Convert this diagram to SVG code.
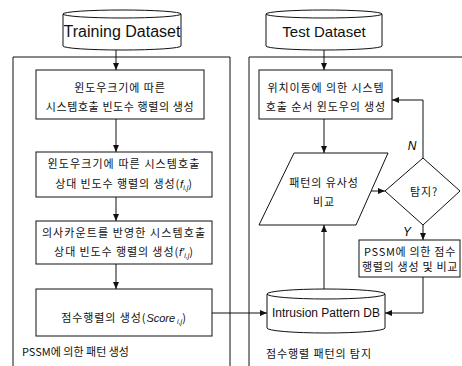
<svg xmlns="http://www.w3.org/2000/svg" width="462" height="366" viewBox="0 0 462 366">
<defs>
<marker id="arr" markerUnits="userSpaceOnUse" markerWidth="7" markerHeight="6" refX="7" refY="3" orient="auto">
<path d="M0,0 L7,3 L0,6 z" fill="#111"/>
</marker>
<style>
.ln{fill:none;stroke:#111;stroke-width:1}
.bx{fill:#fff;stroke:#111;stroke-width:1}
.ko{font-family:"Noto Sans CJK KR","Noto Sans",sans-serif;font-size:11px;fill:#111;text-anchor:middle;letter-spacing:0.9px}
.lt{font-family:"Liberation Sans",Arial,sans-serif;fill:#111;text-anchor:middle}
.it{font-family:"Liberation Sans",Arial,sans-serif;font-style:italic;letter-spacing:0}
.sub{font-family:"Liberation Sans",Arial,sans-serif;font-style:italic;font-size:7px;letter-spacing:0}
</style>
</defs>
<rect width="462" height="366" fill="#fff"/>

<g id="frames">
<path class="ln" d="M13,366 V57 H230 V366"/>
<path class="ln" d="M249,366 V57 H462"/>
</g>

<g id="connectors">
<line class="ln" x1="116" y1="50" x2="116" y2="70" marker-end="url(#arr)"/>
<line class="ln" x1="116" y1="119" x2="116" y2="152" marker-end="url(#arr)"/>
<line class="ln" x1="116" y1="197" x2="116" y2="221" marker-end="url(#arr)"/>
<line class="ln" x1="116" y1="264" x2="116" y2="289" marker-end="url(#arr)"/>
<line class="ln" x1="212" y1="313" x2="267" y2="313" marker-end="url(#arr)"/>
<line class="ln" x1="324" y1="50" x2="324" y2="70" marker-end="url(#arr)"/>
<line class="ln" x1="324" y1="119" x2="324" y2="153" marker-end="url(#arr)"/>
<line class="ln" x1="324" y1="289" x2="324" y2="225" marker-end="url(#arr)"/>
<line class="ln" x1="371" y1="191" x2="385" y2="191" marker-end="url(#arr)"/>
<polyline class="ln" points="423,158 423,100 392,100" marker-end="url(#arr)"/>
<line class="ln" x1="423" y1="225" x2="423" y2="240" marker-end="url(#arr)"/>
<polyline class="ln" points="423,277 423,313 385,313" marker-end="url(#arr)"/>
<text class="it" x="412" y="150" font-size="12" text-anchor="middle">N</text>
<text class="it" x="407" y="236" font-size="12" text-anchor="middle">Y</text>
</g>

<g id="training">
<path class="bx" d="M63,14 A59,4 0 0 1 181,14 V46 A59,4 0 0 1 63,46 Z"/>
<path class="ln" d="M63,14 A59,4 0 0 0 181,14"/>
<text class="lt" x="122" y="37" font-size="16">Training Dataset</text>
</g>

<g id="test">
<path class="bx" d="M266,14 A58,4 0 0 1 382,14 V46 A58,4 0 0 1 266,46 Z"/>
<path class="ln" d="M266,14 A58,4 0 0 0 382,14"/>
<text class="lt" x="324" y="37" font-size="15">Test Dataset</text>
</g>

<g id="box1">
<rect class="bx" x="36" y="70" width="168" height="49"/>
<text class="ko" x="120" y="92">윈도우크기에 따른</text>
<text class="ko" x="120" y="111" style="letter-spacing:0.6px">시스템호출 빈도수 행렬의 생성</text>
</g>

<g id="box2">
<rect class="bx" x="36" y="152" width="176" height="45"/>
<text class="ko" x="124" y="168" style="letter-spacing:1.1px">윈도우크기에 따른 시스템호출</text>
<text class="ko" x="124" y="188">상대 빈도수 행렬의 생성(<tspan class="it">f</tspan><tspan class="sub" dy="2">i,j</tspan><tspan dy="-2">)</tspan></text>
</g>

<g id="box3">
<rect class="bx" x="36" y="221" width="176" height="43"/>
<text class="ko" x="124" y="237" style="letter-spacing:1.1px">의사카운트를 반영한 시스템호출</text>
<text class="ko" x="124" y="256">상대 빈도수 행렬의 생성(<tspan class="it">f'</tspan><tspan class="sub" dy="2">i,j</tspan><tspan dy="-2">)</tspan></text>
</g>

<g id="box4">
<rect class="bx" x="36" y="289" width="176" height="47"/>
<text class="ko" x="124" y="322">점수행렬의 생성(<tspan class="it">Score</tspan><tspan class="sub" dy="2"> i,j</tspan><tspan dy="-2">)</tspan></text>
</g>

<g id="label-left">
<text class="ko" x="22" y="356" style="text-anchor:start;letter-spacing:0">PSSM에 의한 패턴 생성</text>
</g>

<g id="boxR1">
<rect class="bx" x="259" y="70" width="133" height="49"/>
<text class="ko" x="326" y="92">위치이동에 의한 시스템</text>
<text class="ko" x="326" y="111">호출 순서 윈도우의 생성</text>
</g>

<g id="compare">
<polygon class="bx" points="294,153 388,153 356,225 259,225"/>
<text class="ko" x="324" y="187">패턴의 유사성</text>
<text class="ko" x="324" y="206">비교</text>
</g>

<g id="detect">
<polygon class="bx" points="423,158 460,191 423,225 385,191"/>
<text class="ko" x="424" y="196" font-size="12">탐지?</text>
</g>

<g id="boxR2">
<rect class="bx" x="359" y="240" width="101" height="37"/>
<text class="ko" x="410" y="256" font-size="10" style="letter-spacing:0.7px">PSSM에 의한  점수</text>
<text class="ko" x="410" y="271" font-size="10" style="letter-spacing:0.7px">행렬의 생성 및 비교</text>
</g>

<g id="db">
<path class="bx" d="M267,294 A59,5 0 0 1 385,294 V328 A59,5 0 0 1 267,328 Z"/>
<path class="ln" d="M267,294 A59,5 0 0 0 385,294"/>
<text class="lt" x="326" y="317" font-size="12">Intrusion Pattern DB</text>
</g>

<g id="label-right">
<text class="ko" x="266" y="358" style="text-anchor:start">점수행렬 패턴의 탐지</text>
</g>
</svg>
